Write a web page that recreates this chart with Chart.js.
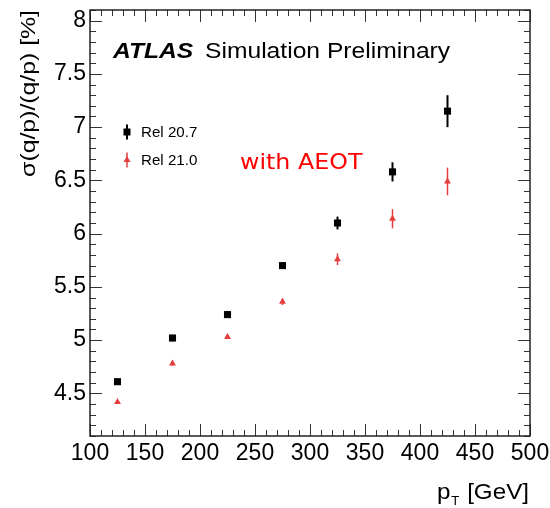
<!DOCTYPE html>
<html>
<head>
<meta charset="utf-8">
<script src="https://cdn.jsdelivr.net/npm/chart.js@4.4.0/dist/chart.umd.min.js"></script>
<style>
  html, body { margin: 0; padding: 0; background: #fff; }
  #wrap { width: 550px; height: 508px; }
</style>
</head>
<body>
<div id="wrap"><canvas id="chart"></canvas></div>
<script>
// --- DATA ---
const ptBins = [125, 175, 225, 275, 325, 375, 425];
const rel207 = [4.61, 5.02, 5.24, 5.70, 6.10, 6.58, 7.15];
const rel207Err = [0.02, 0.03, 0.03, 0.03, 0.06, 0.09, 0.15];
const rel210 = [4.42, 4.78, 5.03, 5.36, 5.76, 6.14, 6.49];
const rel210Err = [0.01, 0.02, 0.02, 0.03, 0.055, 0.09, 0.13];

const xTicks = [100, 150, 200, 250, 300, 350, 400, 450, 500];
const yTicks = [4.5, 5, 5.5, 6, 6.5, 7, 7.5, 8];
const xMinorStep = 10;
const yMinorStep = 0.1;

const black = '#000000';
const red = '#e63c3c';
const font = 'Liberation Sans, Arial, sans-serif';

// stretch text a little, like the ROOT export
function wideText(ctx, text, x, y, sx) {
    ctx.save();
    ctx.translate(x, y);
    ctx.scale(sx, 1);
    ctx.fillText(text, 0, 0);
    ctx.restore();
}

// --- ERROR BARS ---
const errorBars = {
    id: 'errorBars',
    beforeDatasetsDraw(chart) {
        const { ctx, scales: { x, y } } = chart;
        chart.data.datasets.forEach(ds => {
            ctx.save();
            ctx.strokeStyle = ds.backgroundColor;
            ctx.lineWidth = ds.errWidth;
            ds.data.forEach(p => {
                const px = x.getPixelForValue(p.x);
                ctx.beginPath();
                ctx.moveTo(px, y.getPixelForValue(p.y - p.err));
                ctx.lineTo(px, y.getPixelForValue(p.y + p.err));
                ctx.stroke();
            });
            ctx.restore();
        });
    }
};

// --- ROOT STYLE FRAME WITH INWARD TICKS ---
const rootFrame = {
    id: 'rootFrame',
    afterDraw(chart) {
        const { ctx, chartArea: a, scales: { x, y } } = chart;
        ctx.save();
        ctx.strokeStyle = '#333';
        ctx.lineWidth = 1;
        ctx.beginPath();
        for (let k = Math.round(x.min / xMinorStep); k * xMinorStep <= x.max + 1e-9; k++) {
            const v = k * xMinorStep;
            const len = xTicks.some(t => Math.abs(t - v) < 1e-6) ? 12 : 6;
            const px = Math.round(x.getPixelForValue(v)) + 0.5;
            ctx.moveTo(px, a.bottom); ctx.lineTo(px, a.bottom - len);
            ctx.moveTo(px, a.top); ctx.lineTo(px, a.top + len);
        }
        for (let k = Math.round(y.min / yMinorStep); k * yMinorStep <= y.max + 1e-9; k++) {
            const v = k * yMinorStep;
            const len = yTicks.some(t => Math.abs(t - v) < 1e-6) ? 12 : 6;
            const py = Math.round(y.getPixelForValue(v)) + 0.5;
            ctx.moveTo(a.left, py); ctx.lineTo(a.left + len, py);
            ctx.moveTo(a.right, py); ctx.lineTo(a.right - len, py);
        }
        ctx.stroke();
        ctx.lineWidth = 1.5;
        ctx.strokeStyle = '#222';
        ctx.strokeRect(a.left, a.top, a.right - a.left, a.bottom - a.top);
        ctx.restore();
    }
};

// --- LABELS, LEGEND, AXIS TITLES ---
const annotations = {
    id: 'annotations',
    afterDraw(chart) {
        const { ctx, chartArea: a } = chart;
        ctx.save();
        ctx.fillStyle = '#000';
        ctx.textBaseline = 'alphabetic';

        // ATLAS label
        ctx.font = 'italic bold 22px ' + font;
        wideText(ctx, 'ATLAS', 113, 58, 1.12);
        ctx.font = '22px ' + font;
        wideText(ctx, 'Simulation Preliminary', 205, 58, 1.12);

        // legend
        const items = [
            { label: 'Rel 20.7', color: black, y: 132, shape: 'rect' },
            { label: 'Rel 21.0', color: red, y: 160, shape: 'tri' }
        ];
        items.forEach(it => {
            ctx.strokeStyle = it.color;
            ctx.fillStyle = it.color;
            ctx.lineWidth = it.shape === 'rect' ? 2 : 1.5;
            ctx.beginPath();
            ctx.moveTo(127, it.y - 7.5); ctx.lineTo(127, it.y + 7.5);
            ctx.stroke();
            ctx.beginPath();
            if (it.shape === 'rect') {
                ctx.rect(123.5, it.y - 3.5, 7, 7);
            } else {
                ctx.moveTo(127, it.y - 4);
                ctx.lineTo(130.5, it.y + 2);
                ctx.lineTo(123.5, it.y + 2);
                ctx.closePath();
            }
            ctx.fill();
            ctx.fillStyle = '#000';
            ctx.font = '14px ' + font;
            ctx.textBaseline = 'middle';
            wideText(ctx, it.label, 141, it.y + 1, 1.08);
            ctx.textBaseline = 'alphabetic';
        });

        // red note
        ctx.fillStyle = '#ff0000';
        ctx.font = '22px DejaVu Sans, sans-serif';
        wideText(ctx, 'with AEOT', 240, 169, 1.08);

        // y-axis title, rotated, ending at the top of the frame
        ctx.fillStyle = '#000';
        ctx.font = '20px ' + font;
        ctx.save();
        ctx.translate(29, a.top);
        ctx.rotate(-Math.PI / 2);
        ctx.scale(1.24, 1);
        ctx.textAlign = 'right';
        ctx.textBaseline = 'middle';
        ctx.fillText('σ(q/p)/(q/p) [%]', 0, 0);
        ctx.restore();

        // x-axis title with subscript
        ctx.textBaseline = 'alphabetic';
        const right = a.right - 1;
        ctx.font = '22px ' + font;
        const wRest = ctx.measureText(' [GeV]').width * 1.1;
        const wP = ctx.measureText('p').width * 1.1;
        ctx.font = '12px ' + font;
        const wT = ctx.measureText('T').width * 1.1;
        const x0 = right - wRest - wT - wP - 2;
        ctx.font = '22px ' + font;
        wideText(ctx, 'p', x0, 499, 1.1);
        wideText(ctx, ' [GeV]', right - wRest, 499, 1.1);
        ctx.font = '12px ' + font;
        wideText(ctx, 'T', x0 + wP + 1, 505, 1.1);
        ctx.restore();
    }
};

// --- CHART ---
const ctx = document.getElementById('chart').getContext('2d');
new Chart(ctx, {
    type: 'scatter',
    data: {
        datasets: [
            {
                label: 'Rel 20.7',
                data: ptBins.map((x, i) => ({ x: x, y: rel207[i], err: rel207Err[i] })),
                pointStyle: 'rect',
                pointRadius: 5,
                backgroundColor: black,
                borderWidth: 0,
                errWidth: 2
            },
            {
                label: 'Rel 21.0',
                data: ptBins.map((x, i) => ({ x: x, y: rel210[i], err: rel210Err[i] })),
                pointStyle: 'triangle',
                pointRadius: 4,
                backgroundColor: red,
                borderWidth: 0,
                errWidth: 1.5
            }
        ]
    },
    options: {
        responsive: true,
        maintainAspectRatio: false,
        animation: false,
        layout: { padding: { top: 10, right: 20, left: 0, bottom: 0 } },
        plugins: { legend: { display: false }, tooltip: { enabled: false } },
        scales: {
            x: {
                type: 'linear',
                min: 100,
                max: 500,
                afterBuildTicks: s => { s.ticks = xTicks.map(v => ({ value: v })); },
                afterFit: s => { s.height = 72; s.paddingLeft = 0; s.paddingRight = 0; },
                grid: { display: false, drawTicks: false },
                border: { display: false },
                ticks: {
                    color: '#000',
                    padding: 4,
                    maxRotation: 0,
                    autoSkip: false,
                    font: { family: font, size: 23 }
                },
                title: { display: false }
            },
            y: {
                type: 'linear',
                min: 4.1,
                max: 8.1,
                afterBuildTicks: s => { s.ticks = yTicks.map(v => ({ value: v })); },
                afterFit: s => { s.width = 90; s.paddingTop = 0; s.paddingBottom = 0; },
                grid: { display: false, drawTicks: false },
                border: { display: false },
                ticks: {
                    color: '#000',
                    padding: 4,
                    autoSkip: false,
                    font: { family: font, size: 23 },
                    callback: v => String(v)
                },
                title: { display: false }
            }
        }
    },
    plugins: [errorBars, rootFrame, annotations]
});
</script>
</body>
</html>
